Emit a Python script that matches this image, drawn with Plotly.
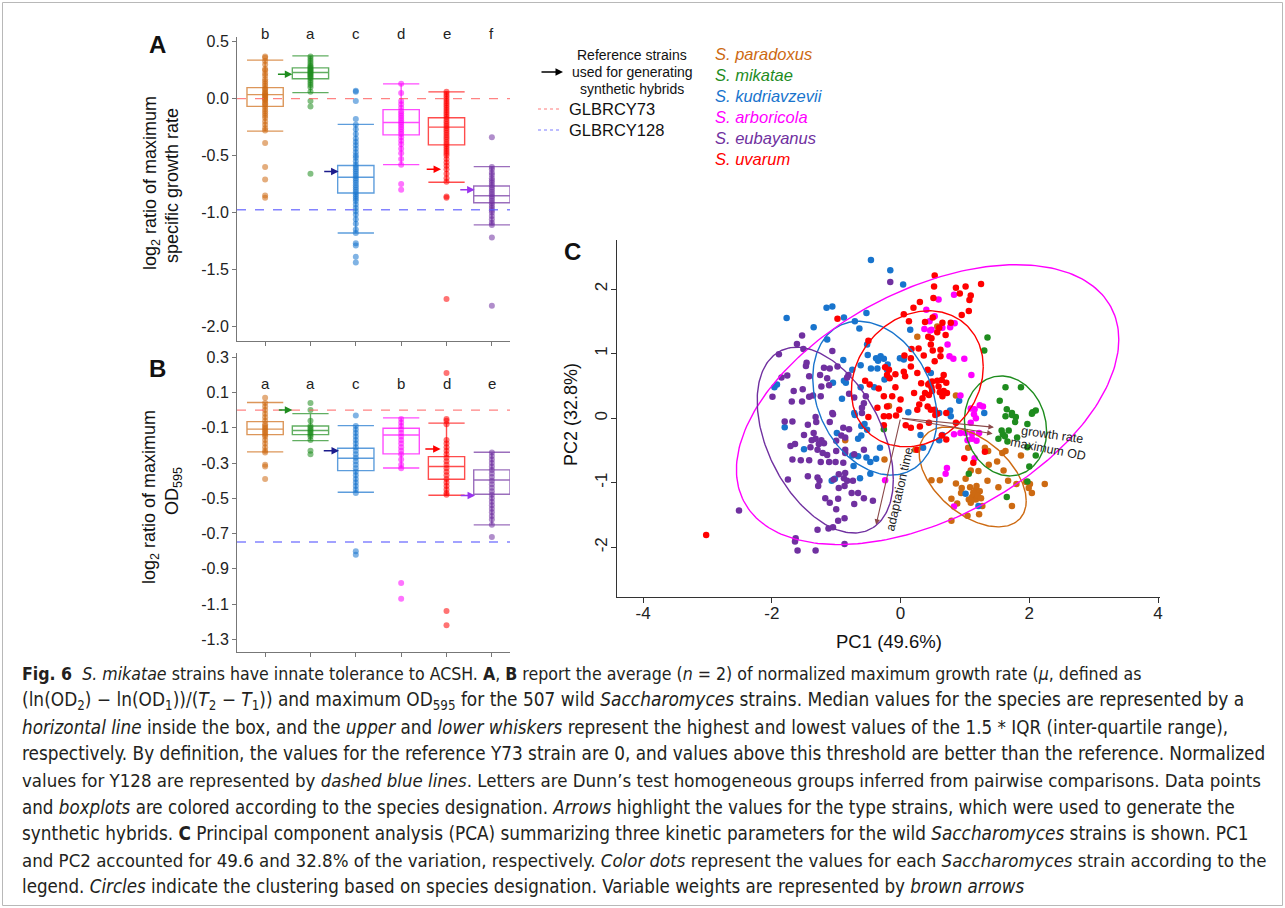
import numpy as np
import plotly.graph_objects as go

# ---------------- data ----------------
species = ["S. paradoxus", "S. mikatae", "S. kudriavzevii", "S. arboricola", "S. eubayanus", "S. uvarum"]
colors = ["#CD6A12", "#1E8C1E", "#1874CD", "#FF00FF", "#7030A0", "#FF0000"]
# order of species along the x axis of panels A and B (paradoxus, mikatae, kudriavzevii, arboricola, uvarum, eubayanus)
box_order = [0, 1, 2, 3, 5, 4]
cat_pos = [1, 2, 3, 4, 5, 6]
letters_A = ["b", "a", "c", "d", "e", "f"]
letters_B = ["a", "a", "c", "b", "d", "e"]

# Panel A: log2 ratio of maximum specific growth rate (stats listed in x-axis order)
A_q1 = [-0.068, 0.174, -0.829, -0.318, -0.406, -0.915]
A_med = [0.035, 0.230, -0.690, -0.210, -0.250, -0.853]
A_q3 = [0.097, 0.270, -0.588, -0.097, -0.168, -0.768]
A_lo = [-0.285, 0.053, -1.180, -0.580, -0.735, -1.109]
A_hi = [0.338, 0.376, -0.226, 0.130, 0.059, -0.597]
A_paradoxus = [0.37, 0.36, 0.33, 0.30, 0.26, 0.25, 0.22, 0.20, 0.17, 0.15, 0.13, 0.11, 0.09, 0.08, 0.06,
               0.05, 0.04, 0.03, 0.02, 0.01, 0.00, -0.01, -0.02, -0.04, -0.05, -0.07, -0.09, -0.11, -0.13,
               -0.15, -0.17, -0.20, -0.23, -0.26, -0.28, -0.39, -0.60, -0.71, -0.85, -0.87]
A_mikatae = [0.37, 0.35, 0.33, 0.31, 0.29, 0.28, 0.27, 0.26, 0.25, 0.24, 0.23, 0.22, 0.21, 0.20, 0.19,
             0.18, 0.16, 0.14, 0.12, 0.10, 0.06, -0.02, -0.07, -0.66]
A_kudriavzevii = [0.07, 0.06, -0.02, -0.18, -0.23, -0.27, -0.31, -0.35, -0.38, -0.41, -0.44, -0.47, -0.50,
                  -0.52, -0.55, -0.58, -0.60, -0.62, -0.64, -0.66, -0.68, -0.70, -0.72, -0.74, -0.76, -0.78,
                  -0.80, -0.82, -0.84, -0.86, -0.88, -0.90, -0.93, -0.96, -0.99, -1.02, -1.06, -1.10, -1.15,
                  -1.18, -1.27, -1.29, -1.39, -1.44]
A_arboricola = [0.13, 0.05, -0.02, -0.05, -0.08, -0.11, -0.13, -0.15, -0.17, -0.19, -0.21, -0.23, -0.25,
                -0.27, -0.29, -0.31, -0.34, -0.37, -0.40, -0.44, -0.48, -0.53, -0.58, -0.75, -0.80]
A_uvarum = [0.06, 0.04, 0.02, 0.00, -0.02, -0.04, -0.06, -0.08, -0.10, -0.12, -0.14, -0.16, -0.18, -0.20,
            -0.22, -0.24, -0.26, -0.28, -0.30, -0.32, -0.34, -0.36, -0.38, -0.40, -0.42, -0.44, -0.46,
            -0.48, -0.50, -0.53, -0.56, -0.59, -0.62, -0.66, -0.70, -0.73, -0.86, -0.87, -1.76]
A_eubayanus = [-0.34, -0.60, -0.62, -0.65, -0.67, -0.70, -0.72, -0.74, -0.76, -0.78, -0.80, -0.82, -0.84,
               -0.86, -0.88, -0.90, -0.92, -0.94, -0.96, -0.98, -1.00, -1.03, -1.06, -1.09, -1.11, -1.22, -1.82]
A_points = [A_paradoxus, A_mikatae, A_kudriavzevii, A_arboricola, A_uvarum, A_eubayanus]

# Panel B: log2 ratio of maximum OD595 (x-axis order)
B_q1 = [-0.139, -0.139, -0.343, -0.248, -0.392, -0.477]
B_med = [-0.108, -0.116, -0.273, -0.141, -0.320, -0.396]
B_q3 = [-0.065, -0.090, -0.216, -0.103, -0.264, -0.339]
B_lo = [-0.237, -0.173, -0.466, -0.328, -0.483, -0.651]
B_hi = [0.043, -0.020, -0.088, -0.044, -0.074, -0.239]
B_paradoxus = [0.07, 0.04, 0.02, 0.00, -0.02, -0.04, -0.06, -0.08, -0.09, -0.10, -0.11, -0.12, -0.13, -0.14,
               -0.15, -0.17, -0.19, -0.21, -0.23, -0.24, -0.31, -0.32, -0.39]
B_mikatae = [0.04, 0.00, -0.06, -0.09, -0.10, -0.11, -0.12, -0.13, -0.14, -0.15, -0.17, -0.23, -0.25]
B_kudriavzevii = [-0.03, -0.09, -0.11, -0.13, -0.15, -0.17, -0.19, -0.21, -0.23, -0.25, -0.27, -0.29, -0.31,
                  -0.33, -0.35, -0.37, -0.39, -0.41, -0.43, -0.45, -0.47, -0.80, -0.82]
B_arboricola = [-0.05, -0.07, -0.09, -0.11, -0.13, -0.15, -0.17, -0.19, -0.21, -0.23, -0.25, -0.28, -0.31,
                -0.33, -0.98, -1.07]
B_uvarum = [0.21, -0.05, -0.06, -0.08, -0.17, -0.19, -0.21, -0.23, -0.25, -0.27, -0.29, -0.31, -0.33, -0.35,
            -0.37, -0.39, -0.41, -0.43, -0.45, -0.47, -0.48, -1.14, -1.22]
B_eubayanus = [-0.24, -0.26, -0.28, -0.30, -0.32, -0.34, -0.36, -0.38, -0.40, -0.42, -0.44, -0.46, -0.48,
               -0.50, -0.52, -0.54, -0.56, -0.58, -0.60, -0.62, -0.65, -0.72]
B_points = [B_paradoxus, B_mikatae, B_kudriavzevii, B_arboricola, B_uvarum, B_eubayanus]

# reference strain lines
Y73_A, Y128_A = 0.0, -0.976
Y73_B, Y128_B = 0.0, -0.748

# type strains highlighted by arrows (category, value)
typeA_cat = [2, 3, 5, 6]
typeA_val = [0.215, -0.64, -0.62, -0.80]
typeB_cat = [2, 3, 5, 6]
typeB_val = [0.0, -0.231, -0.22, -0.485]

# Panel C: PCA scores
pc_paradoxus = [(0.26, 1.26), (-0.18, 0.19), (0.57, 1.42), (0.86, 0.35), (-0.86, -0.34), (-0.25, -0.64),
                (0.23, -0.49), (1.05, -0.46), (1.31, -0.46), (1.36, -0.51), (1.58, -0.54), (1.63, -0.51),
                (1.87, -0.58), (1.50, -0.67), (1.37, -0.72), (1.09, -0.81), (1.21, -0.82), (1.60, -0.81),
                (0.48, -0.96), (0.61, -0.96), (1.01, -0.94), (1.35, -0.97), (1.67, -0.97), (1.80, -1.02),
                (1.95, -0.99), (2.01, -1.02), (2.24, -1.02), (0.86, -1.01), (0.95, -1.08), (0.94, -1.16),
                (1.08, -1.07), (1.17, -1.11), (1.23, -1.13), (1.14, -1.18), (1.11, -1.22), (1.17, -1.26),
                (1.06, -1.26), (1.09, -1.31), (1.27, -1.36), (0.79, -1.25), (0.88, -1.32), (1.04, -1.51),
                (1.22, -1.49), (1.52, -1.07), (1.73, -1.36), (1.99, -1.08), (2.04, -1.16), (0.79, -1.59),
                (1.13, -1.15), (1.20, -1.20), (1.10, -1.28), (1.25, -1.24), (1.18, -1.05)]
pc_mikatae = [(1.35, 1.25), (1.30, 1.05), (1.63, 0.48), (1.87, 0.48), (1.54, 0.27), (1.65, 0.14),
              (1.73, 0.08), (2.05, 0.09), (2.10, 0.12), (-0.26, -0.17), (1.63, 0.03), (1.73, 0.05),
              (1.79, 0.02), (2.04, 0.07), (1.97, -0.09), (1.78, -0.06), (1.57, -0.19), (1.68, -0.19),
              (1.59, -0.25), (1.62, -0.28), (1.66, -0.36), (1.52, -0.32), (1.81, -0.30), (1.97, -0.45),
              (2.10, -0.58), (2.00, -0.75), (1.97, -0.98), (1.65, -1.22), (1.06, -0.86)]
pc_kudriavzevii = [(-0.46, 2.45), (-0.16, 2.29), (0.04, 2.07), (-1.15, 1.71), (-1.06, 1.73), (-1.77, 1.55),
                   (-0.88, 1.56), (-0.71, 1.50), (-0.64, 1.39), (-1.35, 1.41), (-0.53, 1.63), (0.15, 1.37),
                   (-1.14, 1.22), (-0.52, 1.14), (-0.51, 0.98), (-0.89, 0.90), (-0.38, 0.93), (-0.31, 0.96),
                   (-0.26, 0.92), (-0.35, 0.89), (-0.20, 0.83), (-0.01, 0.93), (0.05, 0.91), (-0.75, 0.75),
                   (-0.62, 0.82), (-0.46, 0.77), (-0.36, 0.77), (-0.25, 0.60), (-0.21, 0.75), (-1.05, 0.55),
                   (-0.88, 0.58), (-0.85, 0.55), (-0.62, 0.48), (-0.41, 0.48), (-1.92, 0.52), (-1.96, 0.48),
                   (-0.91, 0.30), (-0.72, 0.08), (0.47, 0.70), (0.91, 0.27), (0.77, 0.12), (1.30, 0.08),
                   (0.60, 0.08), (-1.80, -0.14), (-0.99, -0.23), (-0.66, -0.32), (-0.61, -0.27),
                   (-0.52, -0.18), (-0.61, -0.12), (-0.56, -0.09), (-0.71, 0.05), (-0.32, -0.46),
                   (-0.75, -0.58), (-0.66, -0.59), (-0.53, -0.61), (-0.47, -0.68), (-0.38, -0.63),
                   (-0.73, -0.74), (-1.50, -0.48), (-1.07, -0.97), (-1.02, -0.94), (-0.63, -0.93),
                   (-0.47, -0.86), (0.31, -0.26), (0.35, -0.46), (0.12, 0.09), (0.78, 0.03), (0.65, -0.26),
                   (0.60, -0.34), (1.01, -1.17), (1.21, -1.36)]
pc_arboricola = [(0.40, 1.68), (0.37, 1.38), (0.46, 1.36), (0.45, 1.50), (0.59, 1.84), (0.83, 1.91),
                 (0.53, 1.58), (0.84, 1.47), (0.77, 1.41), (0.65, 1.40), (0.48, 1.37), (0.73, 1.14),
                 (0.76, 0.96), (0.82, 0.92), (0.99, 0.92), (1.10, 0.67), (0.93, 0.35), (1.23, 0.20),
                 (1.28, 0.18), (1.09, 0.15), (1.15, 0.14), (-0.24, -0.96), (1.14, 0.06), (1.17, 0.00),
                 (0.83, -0.25), (0.93, -0.23), (1.01, -0.23), (1.11, -0.24), (1.22, -0.23), (1.11, -0.32),
                 (1.04, -0.34), (1.18, -0.35), (1.15, -0.62), (0.72, -0.77), (0.70, -0.86), (0.83, -1.37),
                 (1.09, -0.07)]
pc_eubayanus = [(-0.16, 2.11), (-1.53, 1.28), (-1.61, 1.15), (-1.51, 1.07), (-1.06, 1.04), (-1.89, 0.99),
                (-1.46, 0.86), (-1.47, 0.81), (-1.19, 0.78), (-1.10, 0.77), (-0.98, 0.80), (-0.81, 0.67),
                (-0.83, 0.63), (-1.25, 0.67), (-1.14, 0.62), (-1.42, 0.65), (-1.85, 0.63), (-1.76, 0.66),
                (-1.23, 0.49), (-1.11, 0.51), (-1.52, 0.45), (-1.66, 0.42), (-1.36, 0.35), (-1.42, 0.33),
                (-1.24, 0.34), (-0.80, 0.38), (-0.72, 0.32), (-0.54, 0.34), (-0.57, 0.23), (-0.60, 0.16),
                (-1.99, 0.33), (-1.69, 0.26), (-1.53, 0.26), (-1.06, 0.08), (-0.60, 0.08), (-1.80, -0.05),
                (-1.68, -0.05), (-1.32, 0.02), (-1.31, -0.06), (-1.44, -0.10), (-1.10, -0.06), (-1.05, 0.06),
                (-0.89, -0.15), (-0.80, -0.17), (-1.50, -0.26), (-1.35, -0.23), (-1.32, -0.32),
                (-1.38, -0.34), (-1.23, -0.34), (-1.19, -0.39), (-1.27, -0.40), (-1.00, -0.35),
                (-0.92, -0.27), (-0.86, -0.30), (-1.71, -0.43), (-1.64, -0.40), (-1.40, -0.45),
                (-1.29, -0.49), (-1.21, -0.54), (-1.14, -0.57), (-1.00, -0.51), (-0.86, -0.49),
                (-0.86, -0.54), (-0.72, -0.56), (-0.57, -0.49), (-1.68, -0.64), (-1.55, -0.65),
                (-1.42, -0.65), (-1.24, -0.68), (-1.11, -0.68), (-1.01, -0.68), (-0.89, -0.69),
                (-1.75, -0.95), (-1.44, -0.90), (-1.29, -0.92), (-1.26, -0.97), (-1.04, -0.95),
                (-0.96, -0.87), (-0.86, -0.85), (-0.88, -0.93), (-0.83, -0.97), (-0.74, -0.97),
                (-0.87, -1.05), (-1.28, -1.05), (-0.96, -1.08), (-0.76, -1.16), (-0.66, -1.16),
                (-1.17, -1.24), (-0.97, -1.25), (-1.10, -1.31), (-0.72, -1.33), (-0.57, -1.24),
                (-0.43, -1.28), (-1.00, -1.41), (-0.97, -1.59), (-0.87, -1.55), (-1.12, -1.71),
                (-1.05, -1.69), (-1.29, -1.73), (-1.63, -1.86), (-1.64, -1.91), (-0.87, -1.95),
                (-1.60, -2.05), (-1.32, -2.05), (-2.51, -1.43)]
pc_uvarum = [(-0.98, 1.54), (0.05, 1.61), (0.20, 1.71), (0.30, 1.80), (0.13, 1.50), (0.38, 1.49),
             (-0.50, 1.20), (0.17, 1.07), (0.28, 1.08), (0.06, 0.97), (0.16, 0.93), (0.36, 0.97),
             (-0.24, 0.79), (-0.18, 0.75), (-0.21, 0.67), (-0.17, 0.62), (-0.08, 0.68), (0.05, 0.72),
             (0.16, 0.80), (0.07, 0.65), (0.26, 0.70), (0.42, 0.75), (-0.55, 0.58), (-0.48, 0.52),
             (-0.34, 0.46), (-0.08, 0.48), (-0.26, 0.34), (-0.13, 0.34), (0.00, 0.29), (0.21, 0.39),
             (0.34, 0.31), (0.29, 0.21), (0.38, 0.39), (0.45, 0.54), (0.32, 0.54), (-0.36, 0.16),
             (-0.21, 0.18), (-0.02, 0.13), (0.26, 0.13), (0.53, 2.21), (0.52, 2.04), (0.86, 2.02),
             (1.01, 2.04), (1.25, 2.08), (0.92, 1.93), (1.09, 1.90), (1.07, 1.83), (0.51, 1.86),
             (1.06, 1.66), (0.95, 1.60), (0.50, 1.56), (0.65, 1.48), (0.78, 1.48), (0.60, 1.40),
             (0.57, 1.33), (0.70, 1.29), (0.43, 1.26), (0.48, 1.24), (0.47, 1.14), (0.62, 1.06),
             (0.50, 1.05), (0.62, 0.96), (0.53, 0.88), (0.67, 0.67), (0.64, 0.59), (0.57, 0.58),
             (0.49, 0.57), (0.71, 0.55), (0.48, 0.48), (0.59, 0.49), (0.43, 0.52), (0.49, 0.42),
             (0.61, 0.40), (0.67, 0.42), (0.72, 0.39), (0.65, 0.34), (0.44, 0.36), (0.42, 0.18),
             (0.47, 0.13), (0.53, 0.13), (0.57, 0.07), (-0.26, 0.03), (-0.18, 0.03), (-0.07, 0.04),
             (-0.50, 0.02), (-0.26, -0.11), (0.08, -0.11), (0.16, -0.15), (0.30, -0.13), (0.44, -0.07),
             (0.26, -0.49), (0.54, 0.05), (0.71, 0.08), (0.86, -0.07), (0.64, -0.27), (0.71, -0.33),
             (0.99, -0.62), (1.31, -0.52), (1.13, -0.69), (-3.02, -1.81)]
pc_points = [pc_paradoxus, pc_mikatae, pc_kudriavzevii, pc_arboricola, pc_eubayanus, pc_uvarum]

# clustering ellipses (centre, covariance) per species
ell_cx = [1.12, 1.63, -0.40, 0.42, -1.17, 0.26]
ell_cy = [-0.91, -0.12, 0.31, 0.21, -0.34, 0.61]
ell_sxx = [0.692, 0.407, 0.93, 8.82, 1.118, 1.05]
ell_syy = [0.599, 0.600, 1.42, 4.70, 2.07, 1.11]
ell_sxy = [-0.309, -0.053, -0.30, 2.995, -0.643, 0.19]

# variable loadings
load_names = ["growth rate", "maximum OD", "adaptation time"]
load_pc1 = [1.45, 1.43, -0.38]
load_pc2 = [-0.14, -0.24, -1.65]

caption_lines = [
    "<b>Fig. 6</b>  <i>S. mikatae</i> strains have innate tolerance to ACSH. <b>A</b>, <b>B</b> report the average (<i>n</i> = 2) of normalized maximum growth rate (<i>μ</i>, defined as",
    "(ln(OD<sub>2</sub>) − ln(OD<sub>1</sub>))/(<i>T</i><sub>2</sub> − <i>T</i><sub>1</sub>)) and maximum OD<sub>595</sub> for the 507 wild <i>Saccharomyces</i> strains. Median values for the species are represented by a",
    "<i>horizontal line</i> inside the box, and the <i>upper</i> and <i>lower whiskers</i> represent the highest and lowest values of the 1.5 * IQR (inter-quartile range),",
    "respectively. By definition, the values for the reference Y73 strain are 0, and values above this threshold are better than the reference. Normalized",
    "values for Y128 are represented by <i>dashed blue lines</i>. Letters are Dunn’s test homogeneous groups inferred from pairwise comparisons. Data points",
    "and <i>boxplots</i> are colored according to the species designation. <i>Arrows</i> highlight the values for the type strains, which were used to generate the",
    "synthetic hybrids. <b>C</b> Principal component analysis (PCA) summarizing three kinetic parameters for the wild <i>Saccharomyces</i> strains is shown. PC1",
    "and PC2 accounted for 49.6 and 32.8% of the variation, respectively. <i>Color dots</i> represent the values for each <i>Saccharomyces</i> strain according to the",
    "legend. <i>Circles</i> indicate the clustering based on species designation. Variable weights are represented by <i>brown arrows</i>",
]

# ---------------- styling / layout ----------------
W, H = 1285, 908
FONT = "Liberation Sans, Arial, Helvetica, sans-serif"
CAPFONT = "Liberation Sans Narrow, DejaVu Sans Condensed, Arial Narrow, sans-serif"
caption_sizes = [17.6, 18.9, 18.7, 18.8, 18.5, 18.6, 18.8, 18.5, 18.6]
arrow_colors = ["#1E8C1E", "#1C1C8C", "#FF0000", "#9933EE"]
head_off_A = [0.40, 0.38, 0.12, 0.38]
tail_off_A = [0.75, 0.73, 0.47, 0.73]
head_off_B = [0.40, 0.37, 0.13, 0.37]
tail_off_B = [0.73, 0.74, 0.50, 0.72]


def px(x):
    return x / W


def py(y):
    return 1 - y / H


def rgba(h, a):
    h = h.lstrip("#")
    return "rgba(%d,%d,%d,%s)" % (int(h[0:2], 16), int(h[2:4], 16), int(h[4:6], 16), a)


def note(x, y, text, size, color="#111", xanchor="center", family=None, **kw):
    f = dict(size=size, color=color)
    if family:
        f["family"] = family
    d = dict(x=px(x), y=py(y), xref="paper", yref="paper", text=text, showarrow=False,
             xanchor=xanchor, yanchor="middle", font=f)
    d.update(kw)
    return d


fig = go.Figure()

# Panels A & B
for (xa, ya, pts, q1, med, q3, lo, hi) in [
        ("x", "y", A_points, A_q1, A_med, A_q3, A_lo, A_hi),
        ("x2", "y2", B_points, B_q1, B_med, B_q3, B_lo, B_hi)]:
    for i in range(6):
        col = colors[box_order[i]]
        fig.add_trace(go.Scatter(
            x=[cat_pos[i]] * len(pts[i]), y=pts[i], mode="markers",
            marker=dict(color=col, size=6, opacity=0.55, line=dict(width=0)),
            xaxis=xa, yaxis=ya, showlegend=False, hoverinfo="skip"))
        fig.add_trace(go.Box(
            x=[cat_pos[i]], q1=[q1[i]], median=[med[i]], q3=[q3[i]],
            lowerfence=[lo[i]], upperfence=[hi[i]], width=0.8, whiskerwidth=1,
            boxpoints=False, line=dict(color=rgba(col, 0.7), width=1.4),
            fillcolor="rgba(0,0,0,0)", xaxis=xa, yaxis=ya, showlegend=False,
            hoverinfo="skip"))

# Panel C points
for i in range(6):
    fig.add_trace(go.Scatter(
        x=[p[0] for p in pc_points[i]], y=[p[1] for p in pc_points[i]], mode="markers",
        marker=dict(color=colors[i], size=6.5, line=dict(width=0)),
        xaxis="x3", yaxis="y3", showlegend=False, hoverinfo="skip"))

# Panel C ellipses
t = np.linspace(0, 2 * np.pi, 240)
for i in range(6):
    cov = np.array([[ell_sxx[i], ell_sxy[i]], [ell_sxy[i], ell_syy[i]]])
    L = np.linalg.cholesky(cov)
    e = L @ np.vstack([np.cos(t), np.sin(t)])
    fig.add_trace(go.Scatter(
        x=ell_cx[i] + e[0], y=ell_cy[i] + e[1], mode="lines",
        line=dict(color=colors[i], width=1.4),
        xaxis="x3", yaxis="y3", showlegend=False, hoverinfo="skip"))

shapes = []
annotations = []

# reference dashed lines
for ya, v73, v128 in [("y", Y73_A, Y128_A), ("y2", Y73_B, Y128_B)]:
    xd = "x domain" if ya == "y" else "x2 domain"
    shapes.append(dict(type="line", xref=xd, yref=ya, x0=0, x1=1, y0=v73, y1=v73,
                       line=dict(color="rgba(255,90,90,0.75)", width=1.3, dash="dash")))
    shapes.append(dict(type="line", xref=xd, yref=ya, x0=0, x1=1, y0=v128, y1=v128,
                       line=dict(color="rgba(90,90,255,0.75)", width=1.3, dash="dash")))

# type-strain arrows
for xa, ya, cats, vals, ho, to in [("x", "y", typeA_cat, typeA_val, head_off_A, tail_off_A),
                                   ("x2", "y2", typeB_cat, typeB_val, head_off_B, tail_off_B)]:
    for j in range(4):
        annotations.append(dict(
            x=cats[j] - ho[j], y=vals[j], ax=cats[j] - to[j], ay=vals[j],
            xref=xa, yref=ya, axref=xa, ayref=ya, showarrow=True, arrowhead=2,
            arrowsize=1, arrowwidth=1.5, arrowcolor=arrow_colors[j], text=""))

# group letters
for j in range(6):
    annotations.append(dict(x=cat_pos[j], y=py(34), xref="x", yref="paper", text=letters_A[j],
                            xanchor="center", yanchor="middle",
                            showarrow=False, font=dict(size=15, color="#222")))
    annotations.append(dict(x=cat_pos[j], y=py(384), xref="x2", yref="paper", text=letters_B[j],
                            xanchor="center", yanchor="middle",
                            showarrow=False, font=dict(size=15, color="#222")))

# PCA loadings
for j in range(3):
    annotations.append(dict(
        x=load_pc1[j], y=load_pc2[j], ax=0, ay=0, xref="x3", yref="y3", axref="x3", ayref="y3",
        showarrow=True, arrowhead=2, arrowsize=1, arrowwidth=1.1, arrowcolor="#8B4A4A", text=""))
load_lab = [(2.36, -0.26, 8), (2.29, -0.47, 11), (-0.02, -1.09, -77)]
for j in range(3):
    annotations.append(dict(x=load_lab[j][0], y=load_lab[j][1], xref="x3", yref="y3",
                            text=load_names[j], textangle=load_lab[j][2], showarrow=False,
                            xanchor="center", yanchor="middle",
                            font=dict(size=12.5, color="#222")))

# panel letters
for lab, x, y in [("A", 157, 44), ("B", 157, 368), ("C", 572, 252)]:
    annotations.append(note(x, y, "<b>%s</b>" % lab, 24))

# axis titles
for txt, x, y in [("log<sub>2</sub> ratio of maximum", 151, 183), ("specific growth rate", 172, 186),
                  ("log<sub>2</sub> ratio of maximum", 150, 497), ("OD<sub>595</sub>", 173, 491),
                  ("PC2 (32.8%)", 571, 415)]:
    annotations.append(note(x, y, txt, 18, textangle=-90))
annotations.append(note(889, 641, "PC1 (49.6%)", 18.5))

# legend
annotations.append(dict(x=px(563), y=py(72), ax=-23, ay=0, xref="paper", yref="paper",
                        axref="pixel", ayref="pixel", showarrow=True, arrowhead=2, arrowsize=1,
                        arrowwidth=1.5, arrowcolor="#000", text=""))
for txt, y in [("Reference strains", 55), ("used for generating", 72), ("synthetic hybrids", 89)]:
    annotations.append(note(632, y, txt, 14))
for txt, y, col in [("GLBRCY73", 109, "rgba(255,90,90,0.8)"), ("GLBRCY128", 130, "rgba(90,90,255,0.8)")]:
    shapes.append(dict(type="line", xref="paper", yref="paper", x0=px(538), x1=px(561),
                       y0=py(y), y1=py(y), line=dict(color=col, width=1, dash="dot")))
    annotations.append(note(567, y, txt, 16.5, xanchor="left"))
for j, y in enumerate([54, 75, 96, 117, 138, 159]):
    annotations.append(note(713, y, "<i>%s</i>" % species[j], 16.5, color=colors[j], xanchor="left"))

# caption
for k, line in enumerate(caption_lines):
    annotations.append(note(20, 674 + k * 26.6, line, caption_sizes[k], color="#231F20", xanchor="left",
                            family=CAPFONT, align="left"))

# frame
shapes.append(dict(type="rect", xref="paper", yref="paper", x0=px(2.5), x1=px(1282.5),
                   y0=py(905.5), y1=py(2.5), line=dict(color="#B8B8B8", width=1)))

axA = dict(showline=True, linecolor="#777", linewidth=1, ticks="outside", ticklen=4, tickcolor="#777",
           showgrid=False, zeroline=False, automargin=False, tickfont=dict(size=16, color="#222"))

ticksA = [0.5, 0.0, -0.5, -1.0, -1.5, -2.0]
ticksB = [0.3, 0.1, -0.1, -0.3, -0.5, -0.7, -0.9, -1.1, -1.3]

fig.update_layout(
    width=W, height=H, margin=dict(l=0, r=0, t=0, b=0, pad=0, autoexpand=False),
    paper_bgcolor="white", plot_bgcolor="white",
    font=dict(family=FONT, color="#222"),
    showlegend=False,
    xaxis=dict(axA, domain=[px(237), px(510)], range=[0.38, 6.40], anchor="y",
               tickvals=cat_pos, showticklabels=False),
    yaxis=dict(axA, domain=[py(341), py(36.7)], range=[-2.129, 0.544], anchor="x",
               tickvals=ticksA, ticktext=["%.1f" % v if v != 0 else "0.0" for v in ticksA]),
    xaxis2=dict(axA, domain=[px(237), px(510)], range=[0.38, 6.40], anchor="y2",
                tickvals=cat_pos, showticklabels=False),
    yaxis2=dict(axA, domain=[py(652), py(353)], range=[-1.372, 0.324], anchor="x2",
                tickvals=ticksB, ticktext=["%.1f" % v for v in ticksB]),
    xaxis3=dict(axA, linecolor="#333", tickcolor="#333", ticklen=5, domain=[px(617), px(1160)],
                range=[-4.405, 4.03], anchor="y3", tickvals=[-4, -2, 0, 2, 4],
                ticktext=["-4", "-2", "0", "2", "4"], tickfont=dict(size=17, color="#222"),
                ticklabelstandoff=-4),
    yaxis3=dict(axA, linecolor="#333", tickcolor="#333", ticklen=5, domain=[py(597), py(240)],
                range=[-2.77, 2.76], anchor="x3", tickvals=[-2, -1, 0, 1, 2],
                ticktext=["-2", "-1", "0", "1", "2"], tickangle=-90, tickfont=dict(size=17, color="#222"),
                ticklabelstandoff=-3),
    shapes=shapes, annotations=annotations,
)

fig.write_html("out.html")
